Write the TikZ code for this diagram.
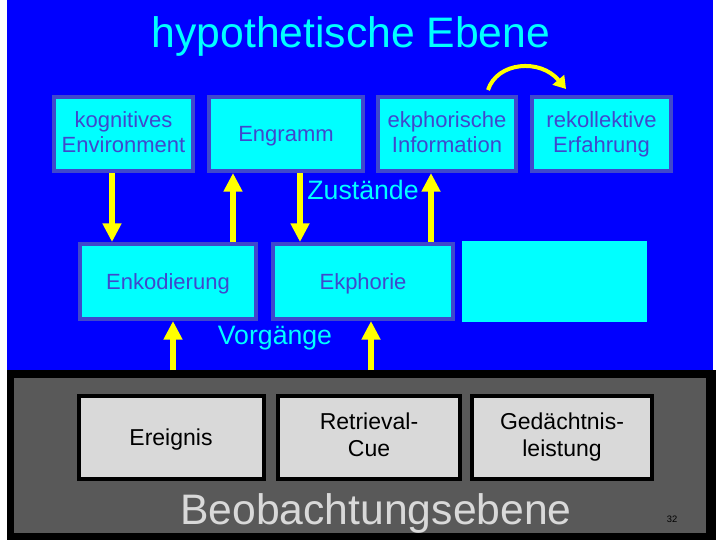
\documentclass[tikz,border=0pt]{standalone}
\usepackage{fontspec}
\setmainfont{Liberation Sans}
\usetikzlibrary{arrows.meta,positioning}
\definecolor{slblue}{RGB}{0,0,255}
\definecolor{slcyan}{RGB}{0,255,255}
\definecolor{slborder}{RGB}{64,72,204}
\definecolor{slyellow}{RGB}{255,255,0}
\definecolor{sldark}{RGB}{89,89,89}
\definecolor{sllight}{RGB}{217,217,217}
\newcommand{\hypostrut}{\rule[-3.5pt]{0pt}{18.75pt}}
\newcommand{\obsstrut}{\rule[-4.2pt]{0pt}{20.25pt}}

\begin{document}
\begin{tikzpicture}[x=0.75pt, y=-0.75pt,
  hypo/.style={draw=slborder, line width=3pt, fill=slcyan, text=slborder, align=center, inner sep=0pt, font=\fontsize{16.5}{18.75}\selectfont, execute at begin node=\hypostrut, execute at end node=\hypostrut},
  obsbox/.style={draw=black, line width=3pt, fill=sllight, text=black, align=center, inner sep=0pt, font=\fontsize{17.25}{20.25}\selectfont, execute at begin node=\obsstrut, execute at end node=\obsstrut},
  level/.style={text=slcyan, anchor=base, inner sep=0pt, font=\fontsize{20}{24}\selectfont},
  yarrow/.style={draw=slyellow, line width=4.5pt, -{Triangle[width=13.5pt,length=14pt]}}]
  \useasboundingbox (0,0) rectangle (720,540);
  \fill[white] (0,0) rectangle (720,540);
  \fill[slblue] (7,0) rectangle (713,370);
  \fill[black] (7,370) rectangle (716,540);
  \fill[sldark] (14,378) rectangle (706,533);

  \node[text=slcyan, anchor=base, font=\fontsize{32}{38}\selectfont] (title) at (351,47) {hypothetische Ebene};

  % Zustaende
  \node[hypo, minimum width=104.25pt, minimum height=55.5pt] (env) at (123.5,134) {kognitives\\Environment};
  \node[hypo, minimum width=115.5pt, minimum height=55.5pt] (engr) at (286,134) {Engramm};
  \node[hypo, minimum width=103.5pt, minimum height=55.5pt] (ekinfo) at (447,134) {ekphorische\\Information};
  \node[hypo, minimum width=104.25pt, minimum height=55.5pt] (rekoll) at (601.5,134) {rekollektive\\Erfahrung};

  % Vorgaenge
  \node[hypo, minimum width=132pt, minimum height=56.25pt] (enk) at (168,281.5) {Enkodierung};
  \node[hypo, minimum width=135pt, minimum height=56.25pt] (ekph) at (363,281.5) {Ekphorie};
  \node[fill=slcyan, inner sep=0pt, minimum width=138.75pt, minimum height=60.75pt] (blank) at (554.5,281.5) {};

  % Beobachtungsebene
  \node[obsbox, minimum width=138.75pt, minimum height=62.25pt] (ereig) at (171,437.5) {Ereignis};
  \node[obsbox, minimum width=136.5pt, minimum height=62.25pt] (retr) at (369,437.5) {Retrieval-\\Cue};
  \node[obsbox, minimum width=135pt, minimum height=62.25pt] (ged) at (562,437.5) {Gedächtnis-\\leistung};

  \node[level] (zust) at (363,199) {Zustände};
  \node[level] (vorg) at (275,344) {Vorgänge};
  \node[text=sllight, anchor=base, inner sep=0pt, font=\fontsize{32}{38}\selectfont] (beob) at (376,524) {Beobachtungsebene};
  \node[anchor=base, inner sep=0pt, font=\fontsize{7}{8}\selectfont] (page) at (672,522) {32};

  \coordinate (a1) at (112,0);
  \coordinate (a2) at (233,0);
  \coordinate (a3) at (300,0);
  \coordinate (a4) at (431,0);
  \coordinate (f5) at (173,370);
  \coordinate (f6) at (371,370);
  \coordinate (c1) at (488,90);
  \coordinate (c2) at (566,89);

  \draw[yarrow] (env.south -| a1) -- (enk.north -| a1);
  \draw[yarrow] (enk.north -| a2) -- (engr.south -| a2);
  \draw[yarrow] (engr.south -| a3) -- (ekph.north -| a3);
  \draw[yarrow] (ekph.north -| a4) -- (ekinfo.south -| a4);
  \draw[yarrow] (f5) -- (enk.south -| f5);
  \draw[yarrow] (f6) -- (ekph.south -| f6);
  \draw[draw=slyellow, line width=3pt, -{Triangle[width=11pt,length=9pt]}] (c1) .. controls (497,62) and (540,58) .. (c2);
\end{tikzpicture}
\end{document}
